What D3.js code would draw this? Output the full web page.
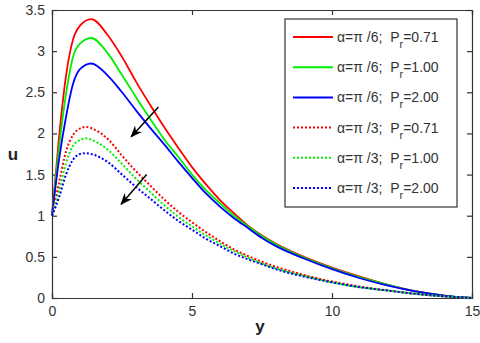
<!DOCTYPE html>
<html>
<head>
<meta charset="UTF-8">
<title>u vs y</title>
<script src="https://cdn.jsdelivr.net/npm/d3@7"></script>
<style>
  body { margin: 0; background: #fff; }
  svg { font-family: "Liberation Sans", Arial, sans-serif; }
  .leg text { white-space: pre; }
</style>
</head>
<body>
<svg width="480" height="343"></svg>
<script>
// data
var yGrid = [0, 0.25, 0.5, 0.75, 1, 1.4, 2, 2.5, 3, 3.5, 4, 4.5, 5, 5.5, 6, 6.5, 7, 7.5, 8, 9, 10, 11, 12, 13, 14, 15];
var yGridDot = [0, 0.25, 0.5, 0.75, 1, 1.2, 1.5, 2, 2.5, 3, 3.5, 4, 4.5, 5, 5.5, 6, 6.5, 7, 7.5, 8, 9, 10, 11, 12, 13, 14, 15];

var uA6P071 = [1, 1.95, 2.70, 3.14, 3.31, 3.39, 3.19, 2.93, 2.63, 2.35, 2.08, 1.83, 1.59, 1.38, 1.19, 1.03, 0.88, 0.76, 0.66, 0.50, 0.37, 0.26, 0.16, 0.08, 0.03, 0];
var uA6P100 = [1, 1.82, 2.48, 2.93, 3.09, 3.16, 2.97, 2.71, 2.44, 2.18, 1.93, 1.72, 1.50, 1.31, 1.15, 1.00, 0.87, 0.75, 0.65, 0.49, 0.36, 0.25, 0.16, 0.08, 0.03, 0];
var uA6P200 = [1, 1.68, 2.20, 2.60, 2.78, 2.85, 2.70, 2.50, 2.28, 2.07, 1.87, 1.66, 1.46, 1.27, 1.11, 0.97, 0.85, 0.73, 0.63, 0.48, 0.35, 0.24, 0.15, 0.08, 0.03, 0];

var uA3P071 = [1, 1.40, 1.78, 1.98, 2.06, 2.08, 2.05, 1.93, 1.73, 1.54, 1.37, 1.20, 1.05, 0.92, 0.80, 0.69, 0.59, 0.51, 0.44, 0.38, 0.28, 0.20, 0.14, 0.09, 0.05, 0.02, 0];
var uA3P100 = [1, 1.30, 1.64, 1.85, 1.92, 1.94, 1.91, 1.80, 1.63, 1.45, 1.29, 1.13, 0.99, 0.87, 0.76, 0.66, 0.57, 0.49, 0.42, 0.36, 0.27, 0.19, 0.13, 0.09, 0.05, 0.02, 0];
var uA3P200 = [1, 1.22, 1.50, 1.68, 1.75, 1.76, 1.74, 1.65, 1.50, 1.35, 1.21, 1.07, 0.94, 0.83, 0.72, 0.63, 0.54, 0.47, 0.41, 0.35, 0.26, 0.19, 0.13, 0.09, 0.05, 0.02, 0];

var legendAlpha = ["\u03b1=\u03c0 /6;  P", "\u03b1=\u03c0 /6;  P", "\u03b1=\u03c0 /6;  P",
                   "\u03b1=\u03c0 /3;  P", "\u03b1=\u03c0 /3;  P", "\u03b1=\u03c0 /3;  P"];
var legendPr = ["=0.71", "=1.00", "=2.00", "=0.71", "=1.00", "=2.00"];
var colors = ["#ff0000", "#00ee00", "#0000ff", "#ff0000", "#00ee00", "#0000ff"];
var dotted = [false, false, false, true, true, true];

var xTicks = [0, 5, 10, 15];
var yTicks = [0, 0.5, 1, 1.5, 2, 2.5, 3, 3.5];

// arrows [yTail, uTail, yHead, uHead]
var arrows = [[3.80, 2.32, 2.83, 1.96], [3.38, 1.50, 2.47, 1.14]];

var series = [
  {x: yGrid, u: uA6P071}, {x: yGrid, u: uA6P100}, {x: yGrid, u: uA6P200},
  {x: yGridDot, u: uA3P071}, {x: yGridDot, u: uA3P100}, {x: yGridDot, u: uA3P200}
];

var margin = {top: 10, right: 8, bottom: 45, left: 52};
var svg = d3.select("svg");
var width = +svg.attr("width") - margin.left - margin.right;
var height = +svg.attr("height") - margin.top - margin.bottom;
var g = svg.append("g").attr("transform", "translate(" + margin.left + "," + margin.top + ")");

var x = d3.scaleLinear().domain([0, 15]).range([0, width]);
var y = d3.scaleLinear().domain([0, 3.5]).range([height, 0]);

// axes, ticks pointing inward
var axisCol = "#333";
g.append("g").attr("transform", "translate(0," + height + ")")
  .call(d3.axisBottom(x).tickValues(xTicks).tickSize(-5).tickPadding(8));
g.append("g").call(d3.axisTop(x).tickValues(xTicks).tickSize(-5).tickFormat(""));
g.append("g").call(d3.axisLeft(y).tickValues(yTicks).tickSize(-5).tickPadding(7).tickFormat(d3.format("")));
g.append("g").attr("transform", "translate(" + width + ",0)")
  .call(d3.axisRight(y).tickValues(yTicks).tickSize(-5).tickFormat(""));
g.selectAll(".domain, .tick line").attr("stroke", axisCol).attr("stroke-width", 1.2);
g.selectAll(".tick text").attr("font-size", 14).attr("fill", "#333")
  .attr("font-family", "Liberation Sans, Arial, sans-serif");

// curves
var line = d3.line().curve(d3.curveMonotoneX);
series.forEach(function(s, i) {
  var pts = s.x.map(function(v, k) { return [x(v), y(s.u[k])]; });
  g.append("path")
    .attr("d", line(pts))
    .attr("fill", "none")
    .attr("stroke", colors[i])
    .attr("stroke-width", dotted[i] ? 2 : 1.8)
    .attr("stroke-dasharray", dotted[i] ? "2,2" : null);
});

// arrows
svg.append("defs").append("marker")
  .attr("id", "head").attr("viewBox", "0 0 10 10").attr("refX", 9).attr("refY", 5)
  .attr("markerWidth", 8).attr("markerHeight", 8).attr("orient", "auto")
  .append("path").attr("d", "M0,1 L10,5 L0,9 L3,5 Z").attr("fill", "#000");
arrows.forEach(function(a) {
  g.append("line")
    .attr("x1", x(a[0])).attr("y1", y(a[1]))
    .attr("x2", x(a[2])).attr("y2", y(a[3]))
    .attr("stroke", "#000").attr("stroke-width", 1.5)
    .attr("marker-end", "url(#head)");
});

// legend
var lg = g.append("g").attr("class", "leg")
  .attr("transform", "translate(" + (285 - margin.left) + "," + (19 - margin.top) + ")");
lg.append("rect").attr("width", 172).attr("height", 188)
  .attr("fill", "#fff").attr("stroke", axisCol).attr("stroke-width", 1.2);
legendPr.forEach(function(p, i) {
  var ry = 18 + i * 30.2;
  lg.append("line").attr("x1", 8).attr("x2", 48).attr("y1", ry).attr("y2", ry)
    .attr("stroke", colors[i]).attr("stroke-width", 2)
    .attr("stroke-dasharray", dotted[i] ? "2,2" : null);
  var t = lg.append("text").attr("x", 52).attr("y", ry + 5)
    .attr("font-size", 14).attr("fill", "#333");
  t.append("tspan").text(legendAlpha[i]);
  t.append("tspan").attr("dy", 6).attr("font-size", 11).text("r");
  t.append("tspan").attr("dy", -6).text(p);
});

// axis labels
svg.append("text").attr("x", 260).attr("y", 332).attr("text-anchor", "middle")
  .attr("font-size", 17).attr("font-weight", "bold").attr("fill", "#222").text("y");
svg.append("text").attr("x", 13).attr("y", 160).attr("text-anchor", "middle")
  .attr("font-size", 17).attr("font-weight", "bold").attr("fill", "#222").text("u");
</script>
</body>
</html>
